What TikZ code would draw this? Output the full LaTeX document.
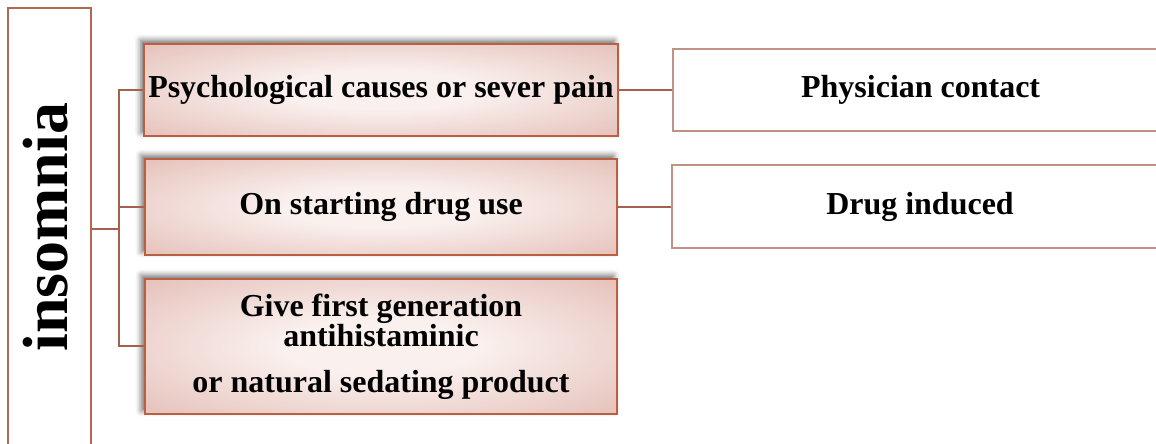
\documentclass[tikz,border=0pt]{standalone}
\usepackage{fontspec}
\setmainfont{Liberation Serif}
\usepackage{tikz}
\usetikzlibrary{positioning,shadows.blur}

\definecolor{rootline}{RGB}{176,104,84}
\definecolor{causeframe}{RGB}{184,96,64}
\definecolor{causedark}{RGB}{218,166,156}
\definecolor{causelight}{RGB}{250,241,239}
\definecolor{linkcol}{RGB}{164,98,78}
\definecolor{actframe}{RGB}{192,146,132}

\pgfdeclareradialshading{causeglow}{\pgfpoint{0bp}{0bp}}{color(0bp)=(causelight); color(10bp)=(causelight); color(50bp)=(causedark)}

\begin{document}
\begin{tikzpicture}[
    font=\bfseries\fontsize{27.3}{25.6}\selectfont,
    rootbox/.style={draw=rootline, line width=1.7pt, minimum width=2.49cm, minimum height=13.26cm},
    cause/.style={draw=causeframe, line width=1.7pt, shading=causeglow, align=center,
        minimum width=14.16cm,
        blur shadow={shadow xshift=-3pt, shadow yshift=3pt, shadow blur radius=5pt, shadow opacity=60}},
    act/.style={draw=actframe, line width=1.7pt, fill=white, minimum width=14.88cm, minimum height=2.46cm},
    link/.style={draw=linkcol, line width=1.7pt}
]
\useasboundingbox (0,0) rectangle (34.68,13.32);

\node[rootbox] (root) at (1.485,6.45) {};
\node[rotate=90, font=\bfseries\fontsize{54.6}{60}\selectfont] (rootlabel) at (1.38,6.5) {insomnia};
\coordinate[right=0.81cm of root.east] (hub);

\node[cause, minimum height=2.76cm] (cause1) at (11.43,10.62) {Psychological causes or sever pain};
\node[cause, minimum height=2.88cm, below=6.3mm of cause1] (cause2) {On starting drug use};
\node[cause, minimum height=4.05cm, below=6.6mm of cause2] (cause3) {Give first generation\\antihistaminic\\[13.7pt]or natural sedating product};

\node[act, right=1.59cm of cause1] (act1) {Physician contact};
\node[act, minimum height=2.49cm, right=1.59cm of cause2] (act2) {Drug induced};

\draw[link] (root.east) -- (hub);
\draw[link] (cause1.west) -| (hub);
\draw[link] (cause2.west) -| (hub);
\draw[link] (cause3.west) -| (hub);
\draw[link] (cause1.east) -- (act1.west);
\draw[link] (cause2.east) -- (act2.west);
\end{tikzpicture}
\end{document}
